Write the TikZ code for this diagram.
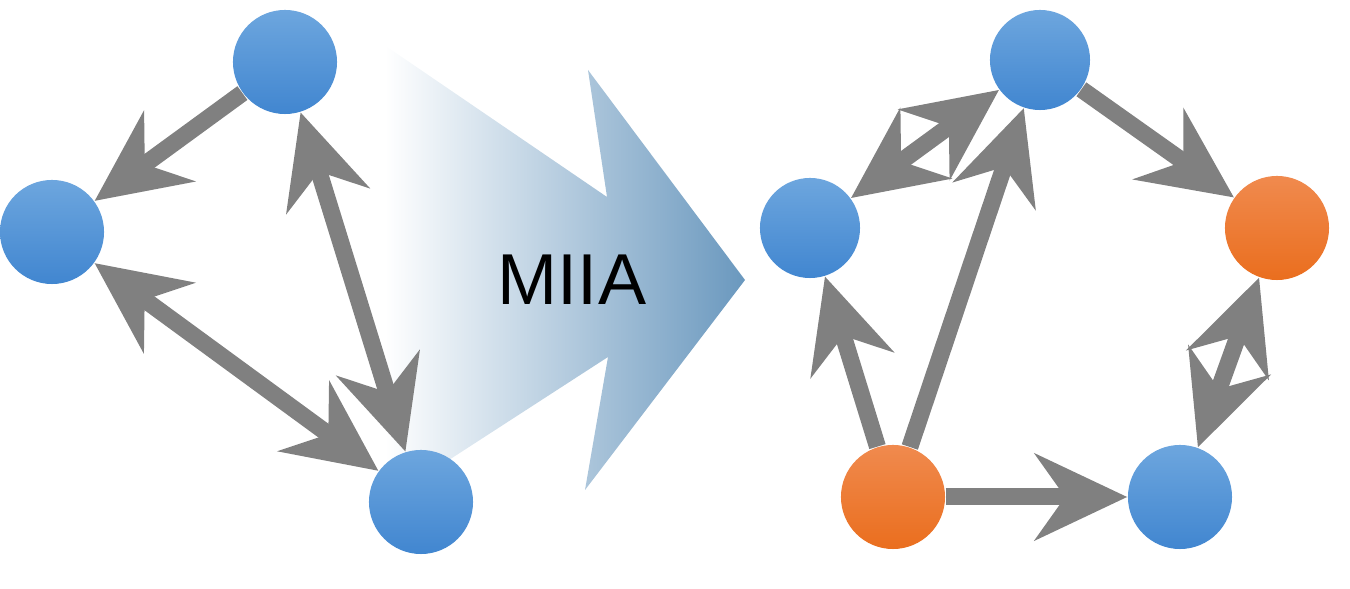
\documentclass[tikz,border=0pt]{standalone}
\usepackage{fontspec}
\setmainfont{Liberation Sans}
\usetikzlibrary{arrows.meta}

\begin{document}
\begin{tikzpicture}[x=0.01cm, y=-0.01cm]
    \definecolor{edgeColour}{HTML}{808080}
    \definecolor{blueTop}{HTML}{6DA6DE}
    \definecolor{blueBottom}{HTML}{4186D0}
    \definecolor{orangeTop}{HTML}{F08A4E}
    \definecolor{orangeBottom}{HTML}{EA6E1E}
    \definecolor{bigArrowColour}{HTML}{6A98BE}

    \tikzset{
        vertex/.style={circle, inner sep=0pt, minimum size=1.04cm, draw=none},
        blueVertex/.style={vertex, top color=blueTop, bottom color=blueBottom},
        orangeVertex/.style={vertex, top color=orangeTop, bottom color=orangeBottom},
        edgeTip/.tip={Stealth[length=0.92cm, width=0.86cm, inset=0.3cm]},
        edge/.style={draw=edgeColour, line width=0.17cm, -edgeTip},
        twoWay/.style={edge, edgeTip-edgeTip}
    }

    \useasboundingbox (0,0) rectangle (1350,589);

    % Draw the big arrow, fading to white on the left
    \begin{scope}
        \clip (330,8) -- (607,197) -- (588,70) -- (745,280) -- (585,490) -- (608,357) -- (330,537) -- cycle;
        \shade[left color=white, right color=bigArrowColour] (385,0) rectangle (745,589);
    \end{scope}
    \node (label) at (572,280) {\fontsize{20.5}{24}\selectfont MIIA};

    % Nodes of the first graph
    \node[blueVertex] (L1) at (285,62) {};
    \node[blueVertex] (L2) at (52,232) {};
    \node[blueVertex] (L3) at (421,502) {};

    % Nodes of the second graph
    \node[blueVertex, minimum size=1cm] (R1) at (1040,60) {};
    \node[blueVertex, minimum size=1cm] (R2) at (810,228) {};
    \node[orangeVertex] (R3) at (1277,228) {};
    \node[orangeVertex] (R4) at (893,497) {};
    \node[blueVertex] (R5) at (1180,497) {};

    % Edges of the first graph
    \draw[edge] (L1) -- (L2);
    \draw[twoWay] (L2) -- (L3);
    \draw[twoWay] (L1) -- (L3);

    % Edges of the second graph
    \draw[twoWay] (R1) -- (R2);
    \draw[edge] (R1) -- (R3);
    \draw[twoWay] (R3) -- (R5);
    \draw[edge] (R4) -- (R2);
    \draw[edge] (R4) -- (R1);
    \draw[edge] (R4) -- (R5);
\end{tikzpicture}
\end{document}
